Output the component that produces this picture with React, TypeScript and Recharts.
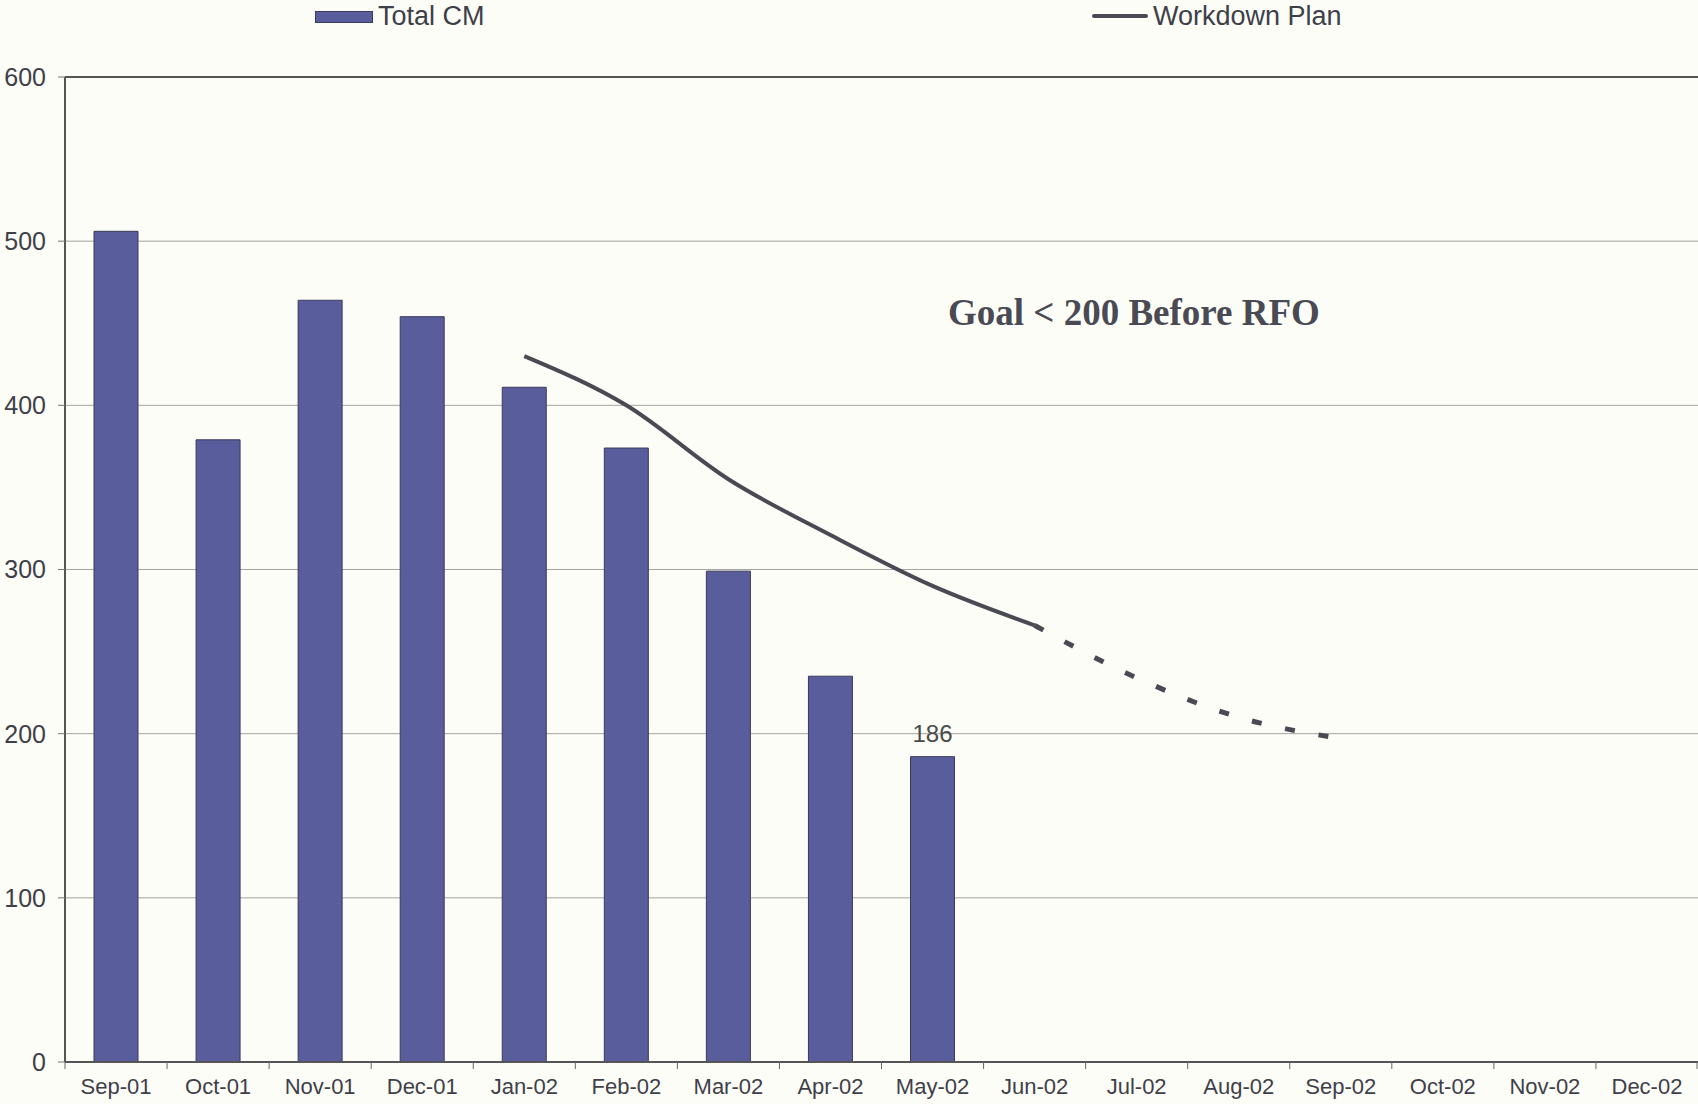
import React from "react"
import {
    ComposedChart,
    Bar,
    Line,
    XAxis,
    YAxis,
    CartesianGrid,
    ReferenceLine,
    LabelList,
} from "recharts"

const MONTHS = [
    "Sep-01", "Oct-01", "Nov-01", "Dec-01", "Jan-02", "Feb-02", "Mar-02", "Apr-02",
    "May-02", "Jun-02", "Jul-02", "Aug-02", "Sep-02", "Oct-02", "Nov-02", "Dec-02",
]
const TOTAL_CM = [506, 379, 464, 454, 411, 374, 299, 235, 186, null, null, null, null, null, null, null]
const WORKDOWN_PLAN = [null, null, null, null, 430, 400, 355, 321, 290, 266, null, null, null, null, null, null]
const PROJECTED_PLAN = [null, null, null, null, null, null, null, null, null, 266, 234, 210, 197, null, null, null]
const Y_TICKS = [0, 100, 200, 300, 400, 500, 600]
const LABELLED_MONTHS = ["May-02"]
const GOAL_TEXT = "Goal < 200 Before RFO"

const data = MONTHS.map((month, i) => ({
    month,
    totalCM: TOTAL_CM[i],
    plan: WORKDOWN_PLAN[i],
    projected: PROJECTED_PLAN[i],
}))

const W = 1698
const H = 1104
const LEFT = 65
const BAND = (W - LEFT) / MONTHS.length
const FONT = "'Liberation Sans', Arial, sans-serif"
const TEXT = "#3f3f4a"
const BAR = "#595d9c"
const PLAN = "#4a4a55"

// tick label plus an Excel-style tick mark on the category boundary
function MonthTick(props: any) {
    const { x, y, payload, index } = props
    const axisY = y - 17
    const last = index === MONTHS.length - 1
    return (
        <g>
            <line x1={x - BAND / 2} x2={x - BAND / 2} y1={axisY} y2={axisY + 7} stroke="#666" />
            {last && <line x1={x + BAND / 2 - 1} x2={x + BAND / 2 - 1} y1={axisY} y2={axisY + 7} stroke="#666" />}
            <text x={x} y={y} dy="0.68em" textAnchor="middle" fill={TEXT} fontSize={22} fontFamily={FONT}>
                {payload.value}
            </text>
        </g>
    )
}

function BarValueLabel(props: any) {
    const { x, y, width, value, index } = props
    if (!LABELLED_MONTHS.includes(MONTHS[index])) return null
    return (
        <text x={x + width / 2} y={y - 15} textAnchor="middle" fill="#4a4a4a" fontSize={24} fontFamily={FONT}>
            {value}
        </text>
    )
}

function LegendOverlay() {
    return (
        <>
            <div style={{ position: "absolute", left: 315, top: 11, width: 56, height: 10, background: BAR, border: "1px solid #3a3a5a" }} />
            <div style={{ position: "absolute", left: 378, top: 0, fontSize: 27, lineHeight: "32px", fontFamily: FONT, color: TEXT }}>Total CM</div>
            <div style={{ position: "absolute", left: 1092, top: 14, width: 56, height: 4, background: PLAN, borderRadius: 2 }} />
            <div style={{ position: "absolute", left: 1153, top: 0, fontSize: 27, lineHeight: "32px", fontFamily: FONT, color: TEXT }}>Workdown Plan</div>
        </>
    )
}

export default function App() {
    return (
        <div style={{ position: "absolute", left: 0, top: 0, width: W, height: H, background: "#fcfdf6" }}>
            <LegendOverlay />
            <div
                style={{
                    position: "absolute",
                    left: 948,
                    top: 294,
                    fontSize: 37,
                    fontWeight: "bold",
                    fontFamily: "'Liberation Serif', 'Times New Roman', serif",
                    color: "#4a4a55",
                    lineHeight: 1,
                    whiteSpace: "nowrap",
                }}
            >
                {GOAL_TEXT}
            </div>
            <ComposedChart
                width={W}
                height={H}
                data={data}
                margin={{ top: 77, right: 0, left: 0, bottom: 0 }}
                barSize={44}
                style={{ position: "absolute", left: 0, top: 0 }}
            >
                <CartesianGrid vertical={false} stroke="#a5a5a0" />
                <XAxis
                    dataKey="month"
                    height={42}
                    interval={0}
                    tickLine={false}
                    tickSize={6}
                    tickMargin={11}
                    axisLine={{ stroke: "#555", strokeWidth: 2 }}
                    tick={<MonthTick />}
                />
                <YAxis
                    width={LEFT}
                    domain={[0, 600]}
                    ticks={Y_TICKS}
                    interval={0}
                    tickSize={7}
                    tickMargin={12}
                    tickLine={{ stroke: "#777" }}
                    axisLine={{ stroke: "#555", strokeWidth: 2 }}
                    tick={{ fontSize: 25, fill: TEXT, fontFamily: FONT }}
                />
                <ReferenceLine y={600} stroke="#555" strokeWidth={2} />
                <Bar dataKey="totalCM" fill={BAR} stroke="#3a3a5a" strokeWidth={1} isAnimationActive={false}>
                    <LabelList dataKey="totalCM" content={<BarValueLabel />} />
                </Bar>
                <Line
                    type="monotone"
                    dataKey="plan"
                    stroke={PLAN}
                    strokeWidth={4}
                    dot={false}
                    activeDot={false}
                    connectNulls={false}
                    isAnimationActive={false}
                />
                <Line
                    type="monotone"
                    dataKey="projected"
                    stroke={PLAN}
                    strokeWidth={5}
                    strokeDasharray="10 24"
                    dot={false}
                    activeDot={false}
                    isAnimationActive={false}
                />
            </ComposedChart>
        </div>
    )
}
